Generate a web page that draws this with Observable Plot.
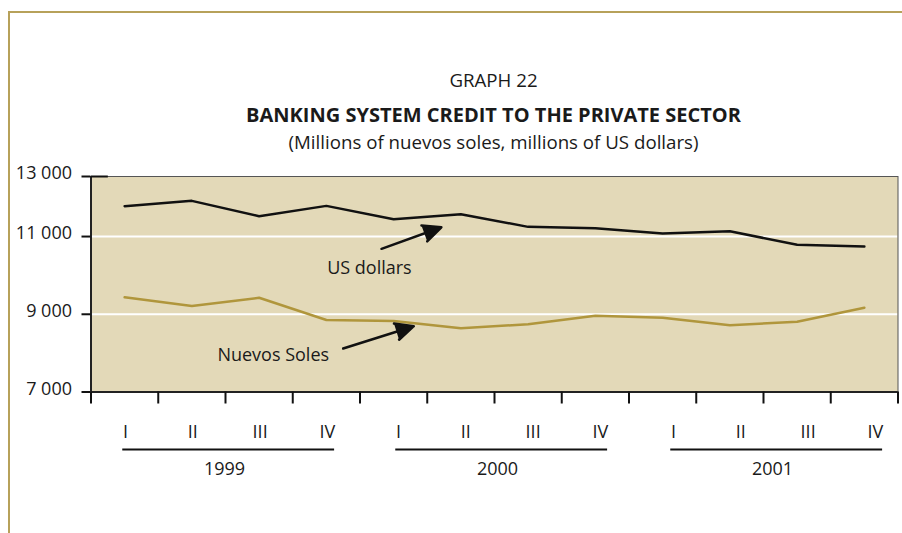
<!DOCTYPE html>
<html>
<head>
<meta charset="utf-8">
<script src="https://cdn.jsdelivr.net/npm/d3@7"></script>
<script src="https://cdn.jsdelivr.net/npm/@observablehq/plot@0.6"></script>
<style>
  html, body { margin: 0; padding: 0; background: #fff; }
  body { width: 902px; height: 533px; position: relative; overflow: hidden; font-family: "Open Sans", sans-serif; }
  #frameTop { position: absolute; left: 8px; top: 11px; width: 894px; height: 0; border-top: 2px solid #b7a15a; }
  #frameLeft { position: absolute; left: 8px; top: 11px; width: 0; height: 522px; border-left: 2px solid #b7a15a; }
  .t { position: absolute; left: 90px; width: 807px; text-align: center; color: #1a1a1a; font-size: 18.7px; line-height: 22px; white-space: nowrap; }
  #chart { position: absolute; left: 0; top: 0; }
</style>
</head>
<body>
<div id="frameTop"></div>
<div id="frameLeft"></div>
<div class="t" style="top:69px;">GRAPH 22</div>
<div class="t" style="top:104px;font-weight:700;font-size:20px;">BANKING SYSTEM CREDIT TO THE PRIVATE SECTOR</div>
<div class="t" style="top:131px;">(Millions of nuevos soles, millions of US dollars)</div>
<div id="chart"></div>
<script>
const quarters = ["I", "II", "III", "IV"];
const years = ["1999", "2000", "2001"];
const usDollars = [11779, 11918, 11522, 11789, 11445, 11573, 11249, 11213, 11077, 11136, 10787, 10743];
const nuevosSoles = [9437, 9213, 9424, 8853, 8828, 8640, 8743, 8964, 8913, 8717, 8810, 9170];
const yTickValues = [7000, 9000, 11000, 12545];
const yTickLabels = ["7 000", "9 000", "11 000", "13 000"];
const gridValues = [9000, 11000];
const seriesLabels = [
  {text: "US dollars", x: 3.64, y: 10177},
  {text: "Nuevos Soles", x: 2.21, y: 7939}
];
const arrows = [
  {x1: 3.82, y1: 10684, x2: 4.71, y2: 11239},
  {x1: 3.25, y1: 8119, x2: 4.30, y2: 8693}
];

const rows = usDollars.map((v, i) => ({i, usd: v, pen: nuevosSoles[i]}));
const boundaries = d3.range(-0.5, rows.length, 1);
const yearShift = [1, 5, 11];
const yTop = yTickValues[yTickValues.length - 1];

const yearMarks = years.flatMap((yr, k) => {
  const q = quarters.map((label, j) => ({label, i: 4 * k + j}));
  return [
    Plot.text(q, {x: "i", text: "label", frameAnchor: "bottom", dy: 46, dx: yearShift[k], fontSize: 18, fill: "#1a1a1a"}),
    Plot.link([{a: 4 * k - 0.05, b: 4 * k + 3.1}], {x1: "a", x2: "b", y1: () => 7000, y2: () => 7000, dy: 57.5, dx: yearShift[k], stroke: "#111", strokeWidth: 2}),
    Plot.text([{t: yr, i: 4 * k + 1.5}], {x: "i", text: "t", frameAnchor: "bottom", dy: 83, dx: yearShift[k] - 2, fontSize: 18, fill: "#1a1a1a"})
  ];
});

const chart = Plot.plot({
  width: 902,
  height: 533,
  marginTop: 176,
  marginLeft: 90.5,
  marginRight: 4.5,
  marginBottom: 141.5,
  style: {fontFamily: "Open Sans", fontSize: "18px", background: "transparent", color: "#1a1a1a"},
  x: {type: "linear", domain: [-0.5, 11.5], axis: null},
  y: {domain: [7000, yTop], axis: null},
  marks: [
    Plot.frame({fill: "#e3d9b8", stroke: null}),
    Plot.ruleY(gridValues, {stroke: "#fff", strokeWidth: 2}),
    Plot.frame({stroke: "#555", strokeWidth: 1}),
    Plot.ruleX([-0.5], {stroke: "#222", strokeWidth: 2}),
    Plot.ruleY([7000], {stroke: "#222", strokeWidth: 2}),
    Plot.link([{a: -0.5, b: -0.25}], {x1: "a", x2: "b", y1: () => yTop, y2: () => yTop, stroke: "#111", strokeWidth: 2}),
    Plot.axisY({ticks: yTickValues, tickSize: 9, tickFormat: () => "", strokeWidth: 2, stroke: "#111"}),
    Plot.axisY({ticks: yTickValues, tickSize: 0, tickPadding: 19, dy: -3, fontSize: 18, fill: "#1a1a1a",
      tickFormat: d => yTickLabels[yTickValues.indexOf(d)]}),
    Plot.axisX({ticks: boundaries, tickSize: 12, tickFormat: () => "", strokeWidth: 2, stroke: "#111"}),
    Plot.line(rows, {x: "i", y: "pen", stroke: "#b0963c", strokeWidth: 2.5}),
    Plot.line(rows, {x: "i", y: "usd", stroke: "#111", strokeWidth: 2.5}),
    Plot.text(seriesLabels, {x: "x", y: "y", text: "text", fontSize: 18, fill: "#1a1a1a"}),
    Plot.arrow(arrows, {x1: "x1", y1: "y1", x2: "x2", y2: "y2", stroke: "#111", fill: "#111", strokeWidth: 2.5, strokeLinejoin: "miter", headLength: 12, headAngle: 50}),
    ...yearMarks
  ]
});
document.getElementById("chart").append(chart);
</script>
</body>
</html>
